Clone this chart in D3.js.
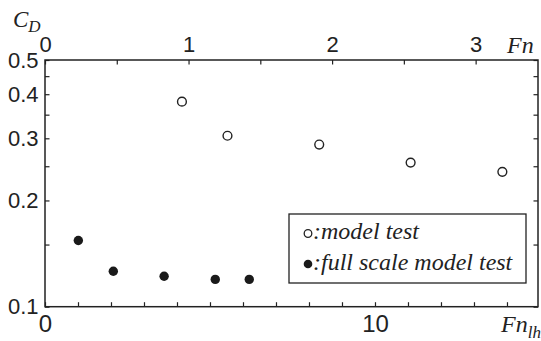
<!DOCTYPE html>
<html>
<head>
<meta charset="utf-8">
<script src="https://cdn.jsdelivr.net/npm/d3@7"></script>
<style>
  html, body { margin: 0; padding: 0; background: #fff; }
  svg { display: block; font-family: "Liberation Serif", serif; }
  text.it { font-family: "Liberation Serif", serif; font-style: italic; }
</style>
</head>
<body>
<svg id="chart" width="541" height="341"></svg>
<script>
// Drag coefficient C_D against Froude number (bottom: Fn_lh, top: Fn)
const modelFnlh = [4.15, 5.53, 8.31, 11.08, 13.86];
const modelCD   = [0.381, 0.305, 0.288, 0.256, 0.241];
const fullFnlh  = [1.01, 2.07, 3.61, 5.16, 6.19];
const fullCD    = [0.154, 0.126, 0.122, 0.1195, 0.1195];

const fnlhTicks  = d3.range(0, 15, 1);
const fnlhLabels = [0, 10];
const fnTicks    = [0, 0.5, 1, 1.5, 2, 2.5, 3];
const fnLabels   = [0, 1, 2, 3];
const cdTicks    = [0.1, 0.15, 0.2, 0.25, 0.3, 0.35, 0.4, 0.45, 0.5];
const cdLabels   = [0.1, 0.2, 0.3, 0.4, 0.5];
const legendItems = [":model test", ":full scale model test"];

const L = 45, R = 538, T = 60, B = 306.7;
const ink = "#222";
const sans = "Liberation Sans";

const svg = d3.select("#chart");

const x = d3.scaleLinear().domain([0, 14.94]).range([L, R]);
const xTop = d3.scaleLinear().domain([0, 14.94 / 4.35]).range([L, R]);
const y = d3.scaleLog().domain([0.1, 0.5]).range([B, T]);

const fmtIf = (labels, f) => d => labels.some(v => Math.abs(v - d) < 1e-9) ? f(d) : "";

function styleAxis(g, size) {
  g.attr("font-family", sans).attr("font-size", size);
  g.select(".domain").remove();
  g.selectAll(".tick line").attr("stroke", ink).attr("stroke-width", 1.2);
  g.selectAll(".tick text").attr("fill", ink);
}

// bottom axis (Fn_lh)
svg.append("g").attr("transform", `translate(0,${B})`)
  .call(d3.axisBottom(x).tickValues(fnlhTicks).tickSize(-4.5).tickPadding(8.5)
    .tickFormat(fmtIf(fnlhLabels, d3.format("d"))))
  .call(g => styleAxis(g, 24));

// top axis (Fn)
svg.append("g").attr("transform", `translate(0,${T})`)
  .call(d3.axisTop(xTop).tickValues(fnTicks).tickSize(-4.5).tickPadding(8)
    .tickFormat(fmtIf(fnLabels, d3.format("d"))))
  .call(g => styleAxis(g, 22));

// left axis (C_D, log)
svg.append("g").attr("transform", `translate(${L},0)`)
  .call(d3.axisLeft(y).tickValues(cdTicks).tickSize(-4.5).tickPadding(6.5)
    .tickFormat(fmtIf(cdLabels, d3.format(".1f"))))
  .call(g => styleAxis(g, 22));

// right axis, ticks only
svg.append("g").attr("transform", `translate(${R},0)`)
  .call(d3.axisRight(y).tickValues(cdTicks).tickSize(-4.5).tickFormat(""))
  .call(g => styleAxis(g, 22));

// frame
svg.append("rect")
  .attr("x", L).attr("y", T).attr("width", R - L).attr("height", B - T)
  .attr("fill", "none").attr("stroke", ink).attr("stroke-width", 1.5);

// model test (open circles)
svg.append("g").selectAll("circle")
  .data(modelFnlh.map((v, i) => [v, modelCD[i]]))
  .join("circle")
  .attr("cx", d => x(d[0])).attr("cy", d => y(d[1])).attr("r", 4.4)
  .attr("fill", "#fff").attr("stroke", ink).attr("stroke-width", 1.4);

// full scale model test (filled circles)
svg.append("g").selectAll("circle")
  .data(fullFnlh.map((v, i) => [v, fullCD[i]]))
  .join("circle")
  .attr("cx", d => x(d[0])).attr("cy", d => y(d[1])).attr("r", 4.7)
  .attr("fill", "#1a1a1a");

// legend
const lg = svg.append("g");
lg.append("rect").attr("x", 289).attr("y", 214).attr("width", 237).attr("height", 69)
  .attr("fill", "#fff").attr("stroke", ink).attr("stroke-width", 1.3);
lg.append("circle").attr("cx", 308).attr("cy", 233.5).attr("r", 3.8)
  .attr("fill", "#fff").attr("stroke", ink).attr("stroke-width", 1.3);
lg.append("circle").attr("cx", 308).attr("cy", 264).attr("r", 4.3).attr("fill", "#1a1a1a");
lg.selectAll("text").data(legendItems).join("text")
  .attr("class", "it").attr("fill", ink)
  .style("font-size", "24px")
  .attr("x", 313).attr("y", (d, i) => 239 + i * 30.5)
  .text(d => d);

// axis titles
const title = (xx, yy, size) => svg.append("text")
  .attr("class", "it").attr("fill", ink)
  .style("font-size", size + "px").attr("x", xx).attr("y", yy);

const cd = title(13, 27, 23);
cd.append("tspan").text("C");
cd.append("tspan").attr("dy", 5).style("font-size", "17px").text("D");

title(507, 52.5, 24).text("Fn");

const fl = title(501, 332, 24);
fl.append("tspan").text("Fn");
fl.append("tspan").attr("dy", 6).style("font-size", "17px").text("lh");
</script>
</body>
</html>
